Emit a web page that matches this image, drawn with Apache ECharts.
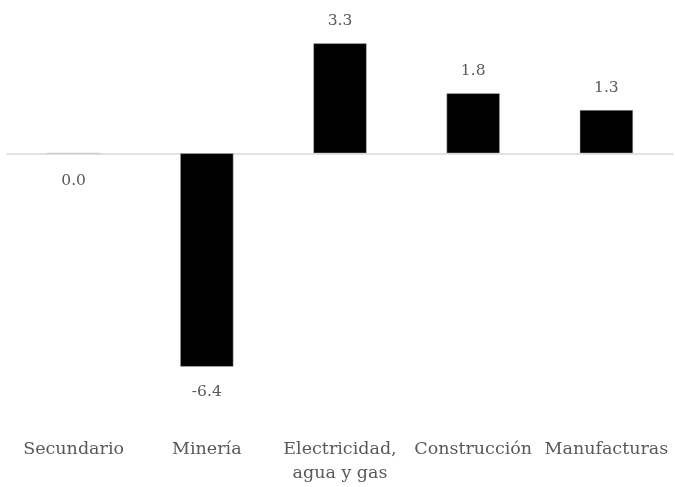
<!DOCTYPE html>
<html>
<head>
<meta charset="utf-8">
<script src="https://cdn.jsdelivr.net/npm/echarts@6/dist/echarts.min.js"></script>
<style>
  html, body { margin: 0; padding: 0; background: #fff; }
  #chart { width: 675px; height: 487px; }
</style>
</head>
<body>
<div id="chart"></div>
<script>
// Sector categories and their values
const categories = ['Secundario', 'Minería', 'Electricidad,\nagua y gas', 'Construcción', 'Manufacturas'];
const values = [0.0, -6.4, 3.3, 1.8, 1.3];

const FONT = 'DejaVu Serif';
const TEXT = '#595959';

const chart = echarts.init(document.getElementById('chart'), null, { renderer: 'canvas' });

const barData = values.map(v => ({
  value: v,
  label: v > 0
    ? { position: 'top', distance: 14 }
    : { position: 'bottom', distance: v === 0 ? 19 : 17 }
}));

chart.setOption({
  animation: false,
  grid: { left: 7, right: 2, top: 20, bottom: 67 },
  xAxis: [
    {
      type: 'category',
      data: categories,
      axisLine: { onZero: true, lineStyle: { color: '#d9d9d9', width: 1.5 } },
      axisTick: { show: false },
      axisLabel: { show: false }
    },
    {
      type: 'category',
      data: categories,
      position: 'bottom',
      axisLine: { show: false },
      axisTick: { show: false },
      axisLabel: {
        margin: 17,
        color: TEXT,
        fontFamily: FONT,
        fontSize: 17.5,
        lineHeight: 24,
        interval: 0
      }
    }
  ],
  yAxis: {
    type: 'value',
    min: -8,
    max: 4,
    show: false,
    splitLine: { show: false }
  },
  series: [{
    type: 'bar',
    xAxisIndex: 0,
    data: barData,
    barWidth: '40%',
    itemStyle: { color: '#000', borderColor: '#bfbfbf', borderWidth: 0.5 },
    label: {
      show: true,
      color: TEXT,
      fontFamily: FONT,
      fontSize: 15.5,
      formatter: p => p.value.toFixed(1)
    }
  }]
});
</script>
</body>
</html>
